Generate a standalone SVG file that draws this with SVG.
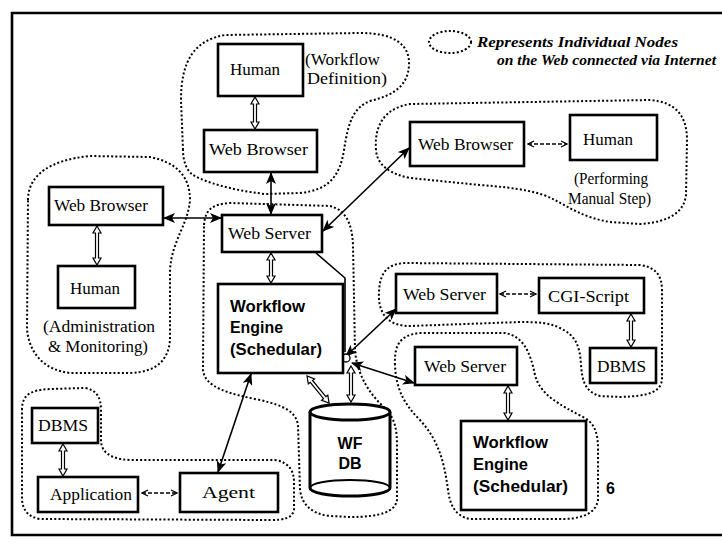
<svg xmlns="http://www.w3.org/2000/svg" width="722" height="548" viewBox="0 0 722 548">
<style>
.box{fill:#fff;stroke:#000;stroke-width:2.6}
.cloud{fill:none;stroke:#000;stroke-width:2;stroke-dasharray:2 2.2}
.conn{fill:none;stroke:#000;stroke-width:1.6}
.dash{fill:none;stroke:#000;stroke-width:1.3;stroke-dasharray:4 2}
.hollow{fill:#fff;stroke:#000;stroke-width:1.2}
.t{font-family:"Liberation Serif",serif;font-size:16px;fill:#000}
.b{font-family:"Liberation Sans",Arial,sans-serif;font-weight:bold;font-size:16px;fill:#000}
.leg{font-family:"Liberation Serif",serif;font-style:italic;font-weight:bold;font-size:15px;fill:#000}
</style>
<defs>
<marker id="fa" markerUnits="userSpaceOnUse" markerWidth="12" markerHeight="10" viewBox="0 0 12 10" refX="11" refY="5" orient="auto-start-reverse">
<path d="M0,0 L12,5 L0,10 L3,5 Z" fill="#000"/>
</marker>
<marker id="oa" markerUnits="userSpaceOnUse" markerWidth="8" markerHeight="8" viewBox="0 0 8 8" refX="7" refY="4" orient="auto-start-reverse">
<path d="M1,1 L7,4 L1,7" fill="none" stroke="#000" stroke-width="1.3"/>
</marker>
</defs>
<rect width="722" height="548" fill="#fff"/>
<path d="M722,13 L12,13 L12,535 L722,535" fill="none" stroke="#000" stroke-width="2.6"/>

<g id="clouds">
<path class="cloud" d="M183,150 L181,100 C181,60 195,40 225,35 L360,33 C395,33 410,45 409,65 C408,85 395,95 370,101 C352,108 348,125 344,150 C340,175 330,190 300,193 L265,194 C230,190 205,182 193,175 C186,170 183,160 183,150 Z"/>
<path class="cloud" d="M28,200 C28,175 50,160 90,156 L150,157 C175,162 190,175 190,200 C188,225 172,240 170,270 L170,340 C168,362 155,372 130,373 L70,373 C45,370 30,355 27,330 Z"/>
<path class="cloud" d="M376,150 C374,125 385,108 410,104 L650,100 C675,102 687,115 687,140 L686,195 C684,212 670,222 640,224 L610,222 C585,218 570,208 555,200 C540,192 520,188 480,185 L410,178 C390,174 377,165 376,150 Z"/>
<path class="cloud" d="M379,300 C378,275 385,264 405,263 L640,265 C655,267 662,275 662,290 L662,380 C660,392 650,396 620,397 L600,396 C585,392 582,380 581,365 C580,345 575,335 560,328 C550,323 540,322 520,322 L410,326 C392,326 381,318 379,300 Z"/>
<path class="cloud" d="M395,365 C394,345 400,335 420,333 L505,333 C522,336 530,350 535,375 C540,395 560,405 585,418 C596,425 598,435 598,450 L598,500 C596,512 585,518 565,519 L470,519 C455,516 450,505 448,490 C444,460 438,440 420,420 C405,405 396,390 395,365 Z"/>
<path class="cloud" d="M204,225 C205,210 212,204 230,203 L330,206 C345,210 352,222 353,245 L355,350 C357,375 370,395 385,408 C395,418 397,430 397,445 L397,500 C395,512 380,517 350,517 L330,516 C312,514 302,505 300,490 L298,425 C296,412 285,406 260,400 C230,394 205,388 203,370 Z"/>
<path class="cloud" d="M22,410 C22,395 30,390 50,389 L85,388 C97,390 101,398 101,410 L101,440 C101,452 110,459 130,460 L275,460 C288,462 294,470 294,482 L294,510 C292,518 285,520 270,520 L40,519 C28,517 23,510 22,500 Z"/>
</g>

<g id="legend">
<ellipse class="cloud" cx="450" cy="42" rx="21" ry="11"/>
<text class="leg" x="477" y="47" textLength="201" lengthAdjust="spacingAndGlyphs">Represents Individual Nodes</text>
<text class="leg" x="497" y="65" textLength="219" lengthAdjust="spacingAndGlyphs">on the Web connected via Internet</text>
</g>

<g id="connectors">
<line class="conn" x1="271" y1="173" x2="271" y2="214" marker-start="url(#fa)" marker-end="url(#fa)"/>
<line class="conn" x1="164" y1="218" x2="221" y2="218" marker-start="url(#fa)" marker-end="url(#fa)"/>
<line class="conn" x1="323" y1="231" x2="409" y2="148" marker-start="url(#fa)" marker-end="url(#fa)"/>
<line class="conn" x1="346" y1="356" x2="396" y2="309" marker-start="url(#fa)" marker-end="url(#fa)"/>
<line class="conn" x1="352" y1="363" x2="414" y2="383" marker-start="url(#fa)" marker-end="url(#fa)"/>
<line class="conn" x1="218" y1="472" x2="251" y2="374" marker-start="url(#fa)" marker-end="url(#fa)"/>
<path class="conn" d="M316,253 L345,278 L345,352"/>
<circle cx="346" cy="358" r="4" fill="#fff" stroke="#000" stroke-width="1.3"/>
<polygon class="hollow" points="255,97 259,104 256.5,104 256.5,122 259,122 255,129 251,122 253.5,122 253.5,104 251,104"/>
<polygon class="hollow" points="97,226 101,233 98.5,233 98.5,258 101,258 97,265 93,258 95.5,258 95.5,233 93,233"/>
<polygon class="hollow" points="271,253 275,260 272.5,260 272.5,276 275,276 271,283 267,276 269.5,276 269.5,260 267,260"/>
<polygon class="hollow" points="631,314 635,321 632.5,321 632.5,340 635,340 631,347 627,340 629.5,340 629.5,321 627,321"/>
<polygon class="hollow" points="508,386 512,393 509.5,393 509.5,413 512,413 508,420 504,413 506.5,413 506.5,393 504,393"/>
<polygon class="hollow" points="63,444 67,451 64.5,451 64.5,469 67,469 63,476 59,469 61.5,469 61.5,451 59,451"/>
<polygon class="hollow" points="351,366 355,373 352.5,373 352.5,395 355,395 351,402 347,395 349.5,395 349.5,373 347,373"/>
<polygon class="hollow" transform="translate(307,376) rotate(50.8)" points="0,0 7,4 7,1.5 28,1.5 28,4 35,0 28,-4 28,-1.5 7,-1.5 7,-4"/>
<line class="dash" x1="528" y1="144" x2="567" y2="144" marker-start="url(#oa)" marker-end="url(#oa)"/>
<line class="dash" x1="500" y1="294" x2="536" y2="294" marker-start="url(#oa)" marker-end="url(#oa)"/>
<line class="dash" x1="142" y1="493" x2="177" y2="493" marker-start="url(#oa)" marker-end="url(#oa)"/>
</g>

<g id="human-top">
<rect class="box" x="218" y="44" width="85" height="52"/>
<text class="t" x="230" y="75" textLength="50" lengthAdjust="spacingAndGlyphs">Human</text>
</g>
<g id="label-workflow-definition">
<text class="t" x="305" y="65" textLength="75" lengthAdjust="spacingAndGlyphs">(Workflow</text>
<text class="t" x="307" y="84" textLength="80" lengthAdjust="spacingAndGlyphs">Definition)</text>
</g>
<g id="web-browser-top">
<rect class="box" x="204" y="130" width="113" height="42"/>
<text class="t" x="209" y="155" textLength="99" lengthAdjust="spacingAndGlyphs">Web Browser</text>
</g>
<g id="web-browser-left">
<rect class="box" x="49" y="187" width="114" height="38"/>
<text class="t" x="54" y="211" textLength="94" lengthAdjust="spacingAndGlyphs">Web Browser</text>
</g>
<g id="human-left">
<rect class="box" x="58" y="266" width="77" height="42"/>
<text class="t" x="70" y="294" textLength="50" lengthAdjust="spacingAndGlyphs">Human</text>
</g>
<g id="label-admin">
<text class="t" x="43" y="332" textLength="112" lengthAdjust="spacingAndGlyphs">(Administration</text>
<text class="t" x="48" y="352" textLength="100" lengthAdjust="spacingAndGlyphs">&amp; Monitoring)</text>
</g>
<g id="web-server-center">
<rect class="box" x="222" y="215" width="100" height="37"/>
<text class="t" x="228" y="239" textLength="83" lengthAdjust="spacingAndGlyphs">Web Server</text>
</g>
<g id="workflow-engine-center">
<rect class="box" x="218" y="284" width="125" height="89"/>
<text class="b" x="230" y="312" textLength="75" lengthAdjust="spacingAndGlyphs">Workflow</text>
<text class="b" x="230" y="333" textLength="53" lengthAdjust="spacingAndGlyphs">Engine</text>
<text class="b" x="230" y="355" textLength="92" lengthAdjust="spacingAndGlyphs">(Schedular)</text>
</g>
<g id="web-browser-right">
<rect class="box" x="410" y="122" width="114" height="44"/>
<text class="t" x="418" y="150" textLength="95" lengthAdjust="spacingAndGlyphs">Web Browser</text>
</g>
<g id="human-right">
<rect class="box" x="570" y="115" width="87" height="45"/>
<text class="t" x="583" y="145" textLength="50" lengthAdjust="spacingAndGlyphs">Human</text>
</g>
<g id="label-manual">
<text class="t" x="574" y="184" textLength="74" lengthAdjust="spacingAndGlyphs">(Performing</text>
<text class="t" x="568" y="204" textLength="83" lengthAdjust="spacingAndGlyphs">Manual Step)</text>
</g>
<g id="web-server-right1">
<rect class="box" x="396" y="274" width="101" height="39"/>
<text class="t" x="403" y="300" textLength="83" lengthAdjust="spacingAndGlyphs">Web Server</text>
</g>
<g id="cgi-script">
<rect class="box" x="539" y="278" width="105" height="35"/>
<text class="t" x="548" y="302" textLength="81" lengthAdjust="spacingAndGlyphs">CGI-Script</text>
</g>
<g id="dbms-right">
<rect class="box" x="590" y="348" width="66" height="35"/>
<text class="t" x="597" y="372" textLength="49" lengthAdjust="spacingAndGlyphs">DBMS</text>
</g>
<g id="web-server-right2">
<rect class="box" x="415" y="347" width="102" height="38"/>
<text class="t" x="424" y="372" textLength="82" lengthAdjust="spacingAndGlyphs">Web Server</text>
</g>
<g id="workflow-engine-right">
<rect class="box" x="461" y="421" width="125" height="89"/>
<text class="b" x="473" y="448" textLength="75" lengthAdjust="spacingAndGlyphs">Workflow</text>
<text class="b" x="473" y="470" textLength="55" lengthAdjust="spacingAndGlyphs">Engine</text>
<text class="b" x="473" y="492" textLength="95" lengthAdjust="spacingAndGlyphs">(Schedular)</text>
</g>
<g id="page-number">
<text class="b" x="606" y="494" font-size="13">6</text>
</g>
<g id="wf-db">
<path d="M310,412 L310,488 A40,8 0 0 0 390,488 L390,412" fill="#fff" stroke="#000" stroke-width="3"/>
<ellipse cx="350" cy="412" rx="40" ry="8" fill="#fff" stroke="#000" stroke-width="3"/>
<path d="M310,488 A40,8 0 0 1 390,488" fill="none" stroke="#000" stroke-width="2"/>
<text class="b" x="350" y="449" text-anchor="middle" font-size="17">WF</text>
<text class="b" x="350" y="469" text-anchor="middle" font-size="17">DB</text>
</g>
<g id="dbms-left">
<rect class="box" x="32" y="408" width="66" height="35"/>
<text class="t" x="38" y="431" textLength="50" lengthAdjust="spacingAndGlyphs">DBMS</text>
</g>
<g id="application">
<rect class="box" x="38" y="477" width="100" height="35"/>
<text class="t" x="50" y="500" textLength="82" lengthAdjust="spacingAndGlyphs">Application</text>
</g>
<g id="agent">
<rect class="box" x="180" y="473" width="98" height="39"/>
<text class="t" x="202" y="498" textLength="53" lengthAdjust="spacingAndGlyphs">Agent</text>
</g>
</svg>
